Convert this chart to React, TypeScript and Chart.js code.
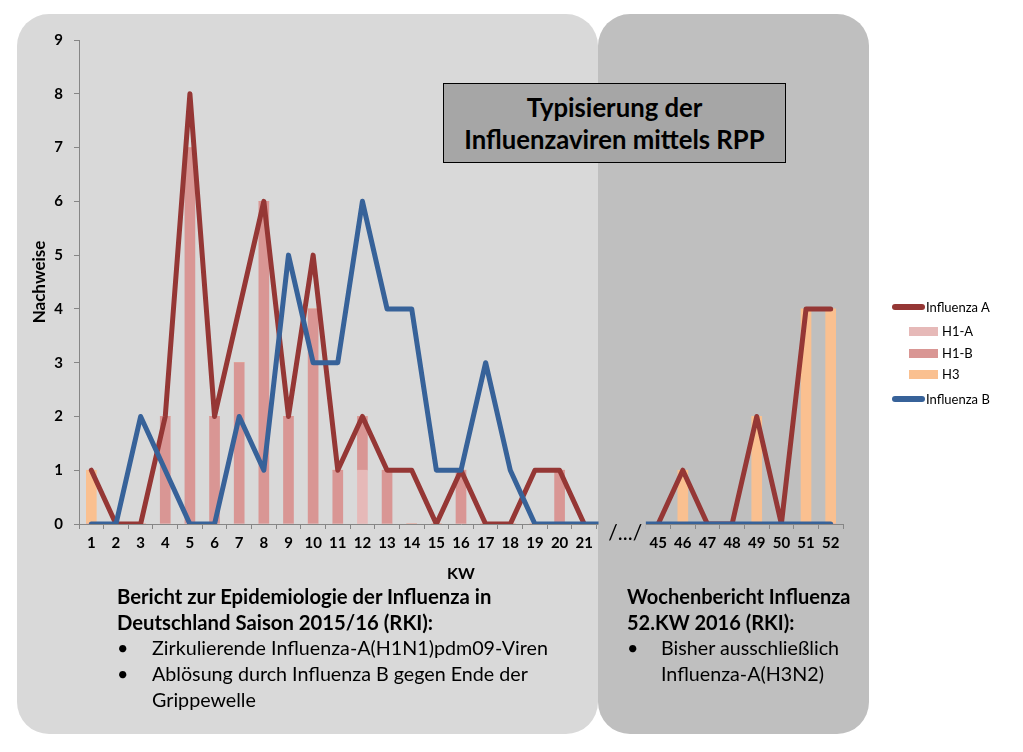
import React, { useEffect, useRef } from 'react';
import { Chart, registerables } from 'chart.js';

Chart.register(...registerables);

// Calendar weeks (two blank slots form the "/.../" break)
const weeks = ['1', '2', '3', '4', '5', '6', '7', '8', '9', '10', '11', '12', '13', '14', '15', '16', '17', '18', '19', '20', '21', '', '', '45', '46', '47', '48', '49', '50', '51', '52'];
const influenzaA = [1, 0, 0, 2, 8, 2, 4, 6, 2, 5, 1, 2, 1, 1, 0, 1, 0, 0, 1, 1, 0, null, null, 0, 1, 0, 0, 2, 0, 4, 4];
const influenzaB = [0, 0, 2, 1, 0, 0, 2, 1, 5, 3, 3, 6, 4, 4, 1, 1, 3, 1, 0, 0, 0, 0, 0, 0, 0, 0, 0, 0, 0, 0, 0];
const h1a = [0, 0, 0, 0, 0, 0, 0, 0, 0, 0, 0, 1, 0, 0, 0, 0, 0, 0, 0, 0, 0, null, null, 0, 0, 0, 0, 0, 0, 0, 0];
const h1b = [0, 0, 0, 2, 7, 2, 3, 6, 2, 4, 1, 1, 1, 0, 0, 1, 0, 0, 0, 1, 0, null, null, 0, 0, 0, 0, 0, 0, 0, 0];
const h3 = [1, 0, 0, 0, 0, 0, 0, 0, 0, 0, 0, 0, 0, 0, 0, 0, 0, 0, 0, 0, 0, null, null, 0, 1, 0, 0, 2, 0, 4, 4];
const yTicks = [0, 1, 2, 3, 4, 5, 6, 7, 8, 9];
const breakIndex = 21;
const breakLabel = '/.../';

const FONT = 'Lato, "Open Sans", sans-serif';
const RED = '#953735';
const BLUE = '#376299';
const C_H1A = '#e6b9b8';
const C_H1B = '#d99694';
const C_H3 = '#fac090';

const breakPlugin = {
  id: 'breakMark',
  afterDatasetsDraw(chart: any) {
    const x = chart.scales.x;
    const y = chart.scales.y;
    const step = x.getPixelForValue(1) - x.getPixelForValue(0);
    const left = x.getPixelForValue(breakIndex) - step / 2;
    const right = x.getPixelForValue(breakIndex + 1) + step / 2;
    const ctx = chart.ctx;
    ctx.save();
    ctx.fillStyle = '#bfbfbf';
    ctx.fillRect(left + 2, y.bottom - 6, right - left - 2, 14);
    ctx.fillStyle = '#000';
    ctx.font = '21px ' + FONT;
    ctx.textAlign = 'center';
    ctx.textBaseline = 'middle';
    ctx.fillText(breakLabel, (left + right) / 2 + 4, y.bottom + 9);
    ctx.restore();
  },
};

function ChartCanvas() {
  const ref = useRef<HTMLCanvasElement>(null);
  useEffect(() => {
    if (!ref.current) return;
    const chart = new Chart(ref.current, {
      type: 'bar',
      data: {
        labels: weeks,
        datasets: [
          {
            type: 'line',
            label: 'Influenza B',
            data: influenzaB,
            borderColor: BLUE,
            backgroundColor: BLUE,
            borderWidth: 5,
            pointRadius: 0,
            borderJoinStyle: 'round',
            borderCapStyle: 'round',
            tension: 0,
            stack: 'B',
          } as any,
          {
            type: 'line',
            label: 'Influenza A',
            data: influenzaA,
            borderColor: RED,
            backgroundColor: RED,
            borderWidth: 5,
            pointRadius: 0,
            borderJoinStyle: 'round',
            borderCapStyle: 'round',
            tension: 0,
            spanGaps: false,
            stack: 'A',
          } as any,
          { type: 'bar', label: 'H1-A', data: h1a, backgroundColor: C_H1A, barThickness: 10, stack: 'bars' } as any,
          { type: 'bar', label: 'H1-B', data: h1b, backgroundColor: C_H1B, barThickness: 10, stack: 'bars' } as any,
          { type: 'bar', label: 'H3', data: h3, backgroundColor: C_H3, barThickness: 10, stack: 'bars' } as any,
        ],
      },
      options: {
        responsive: false,
        animation: false,
        layout: { padding: { left: 26, right: 180, top: 40, bottom: 160 } },
        plugins: { legend: { display: false }, tooltip: { enabled: false } },
        scales: {
          x: {
            stacked: true,
            offset: true,
            grid: { display: true, drawOnChartArea: false, drawTicks: true, tickLength: 5, color: '#868686', offset: true },
            border: { color: '#868686', width: 1 },
            ticks: { color: '#000', font: { family: FONT, size: 15, weight: 'bold' }, padding: 5, maxRotation: 0, autoSkip: false },
            title: { display: true, text: 'KW', color: '#000', font: { family: FONT, size: 16, weight: 'bold' }, padding: { top: 0, bottom: 9 } },
            afterFit: (s: any) => { s.height = 68; },
          },
          y: {
            stacked: true,
            min: 0,
            max: 9,
            afterBuildTicks: (s: any) => { s.ticks = yTicks.map((v) => ({ value: v })); },
            grid: { display: true, drawOnChartArea: false, drawTicks: true, tickLength: 5, color: '#868686' },
            border: { color: '#868686', width: 1 },
            ticks: { color: '#000', font: { family: FONT, size: 15, weight: 'bold' }, padding: 11 },
            title: { display: true, text: 'Nachweise', color: '#000', font: { family: FONT, size: 17, weight: 'bold' }, padding: { top: 3, bottom: 3 } },
            afterFit: (s: any) => { s.width = 53; },
          },
        },
      } as any,
      plugins: [breakPlugin],
    });
    return () => chart.destroy();
  }, []);
  return <canvas ref={ref} width={1023} height={752} style={{ position: 'absolute', left: 0, top: 0, width: 1023, height: 752 }} />;
}

const abs = (s: React.CSSProperties): React.CSSProperties => ({ position: 'absolute', ...s });

function LegendLine({ top, color, label }: { top: number; color: string; label: string }) {
  return (
    <>
      <div style={abs({ left: 892, top: top - 3, width: 33, height: 6, borderRadius: 3, background: color })} />
      <div style={abs({ left: 926, top: top - 9, height: 18, lineHeight: '18px', fontSize: 13, whiteSpace: 'nowrap' })}>{label}</div>
    </>
  );
}

function LegendBox({ top, color, label }: { top: number; color: string; label: string }) {
  return (
    <>
      <div style={abs({ left: 909, top: top - 4, width: 29, height: 9, background: color })} />
      <div style={abs({ left: 942, top: top - 9, height: 18, lineHeight: '18px', fontSize: 13, whiteSpace: 'nowrap' })}>{label}</div>
    </>
  );
}

export default function App() {
  return (
    <div style={abs({ left: 0, top: 0, width: 1023, height: 752, background: '#fff', overflow: 'hidden', fontFamily: FONT, color: '#000' })}>
      <div style={abs({ left: 17, top: 14, width: 581, height: 720, borderRadius: 32, background: '#d9d9d9' })} />
      <div style={abs({ left: 598, top: 14, width: 271, height: 720, borderRadius: 32, background: '#bfbfbf' })} />
      <ChartCanvas />
      <div
        style={abs({
          left: 443, top: 83, width: 343, height: 80, boxSizing: 'border-box', border: '1px solid #000', background: '#a6a6a6',
          display: 'flex', flexDirection: 'column', justifyContent: 'center', alignItems: 'center',
          fontWeight: 'bold', fontSize: 25.7, lineHeight: '32px', textAlign: 'center', whiteSpace: 'nowrap',
        })}
      >
        <div>Typisierung der</div>
        <div>Influenzaviren mittels RPP</div>
      </div>

      <LegendLine top={307} color={RED} label="Influenza A" />
      <LegendBox top={331} color={C_H1A} label="H1-A" />
      <LegendBox top={353} color={C_H1B} label="H1-B" />
      <LegendBox top={374} color={C_H3} label="H3" />
      <LegendLine top={399} color={BLUE} label="Influenza B" />

      <div style={abs({ left: 117, top: 583, fontSize: 19.7, lineHeight: '26px', whiteSpace: 'nowrap' })}>
        <div style={{ fontWeight: 'bold', fontSize: 20.3 }}>Bericht zur Epidemiologie der Influenza in</div>
        <div style={{ fontWeight: 'bold', fontSize: 20.3 }}>Deutschland Saison 2015/16 (RKI):</div>
        <div style={{ position: 'relative', paddingLeft: 35 }}><span style={abs({ left: 0 })}>•</span>Zirkulierende Influenza-A(H1N1)pdm09-Viren</div>
        <div style={{ position: 'relative', paddingLeft: 35 }}><span style={abs({ left: 0 })}>•</span>Ablösung durch Influenza B gegen Ende der</div>
        <div style={{ paddingLeft: 35 }}>Grippewelle</div>
      </div>

      <div style={abs({ left: 627, top: 583, fontSize: 19.7, lineHeight: '26px', whiteSpace: 'nowrap' })}>
        <div style={{ fontWeight: 'bold', fontSize: 20 }}>Wochenbericht Influenza</div>
        <div style={{ fontWeight: 'bold', fontSize: 20 }}>52.KW 2016 (RKI):</div>
        <div style={{ position: 'relative', paddingLeft: 34 }}><span style={abs({ left: 0 })}>•</span>Bisher ausschließlich</div>
        <div style={{ paddingLeft: 34 }}>Influenza-A(H3N2)</div>
      </div>
    </div>
  );
}
